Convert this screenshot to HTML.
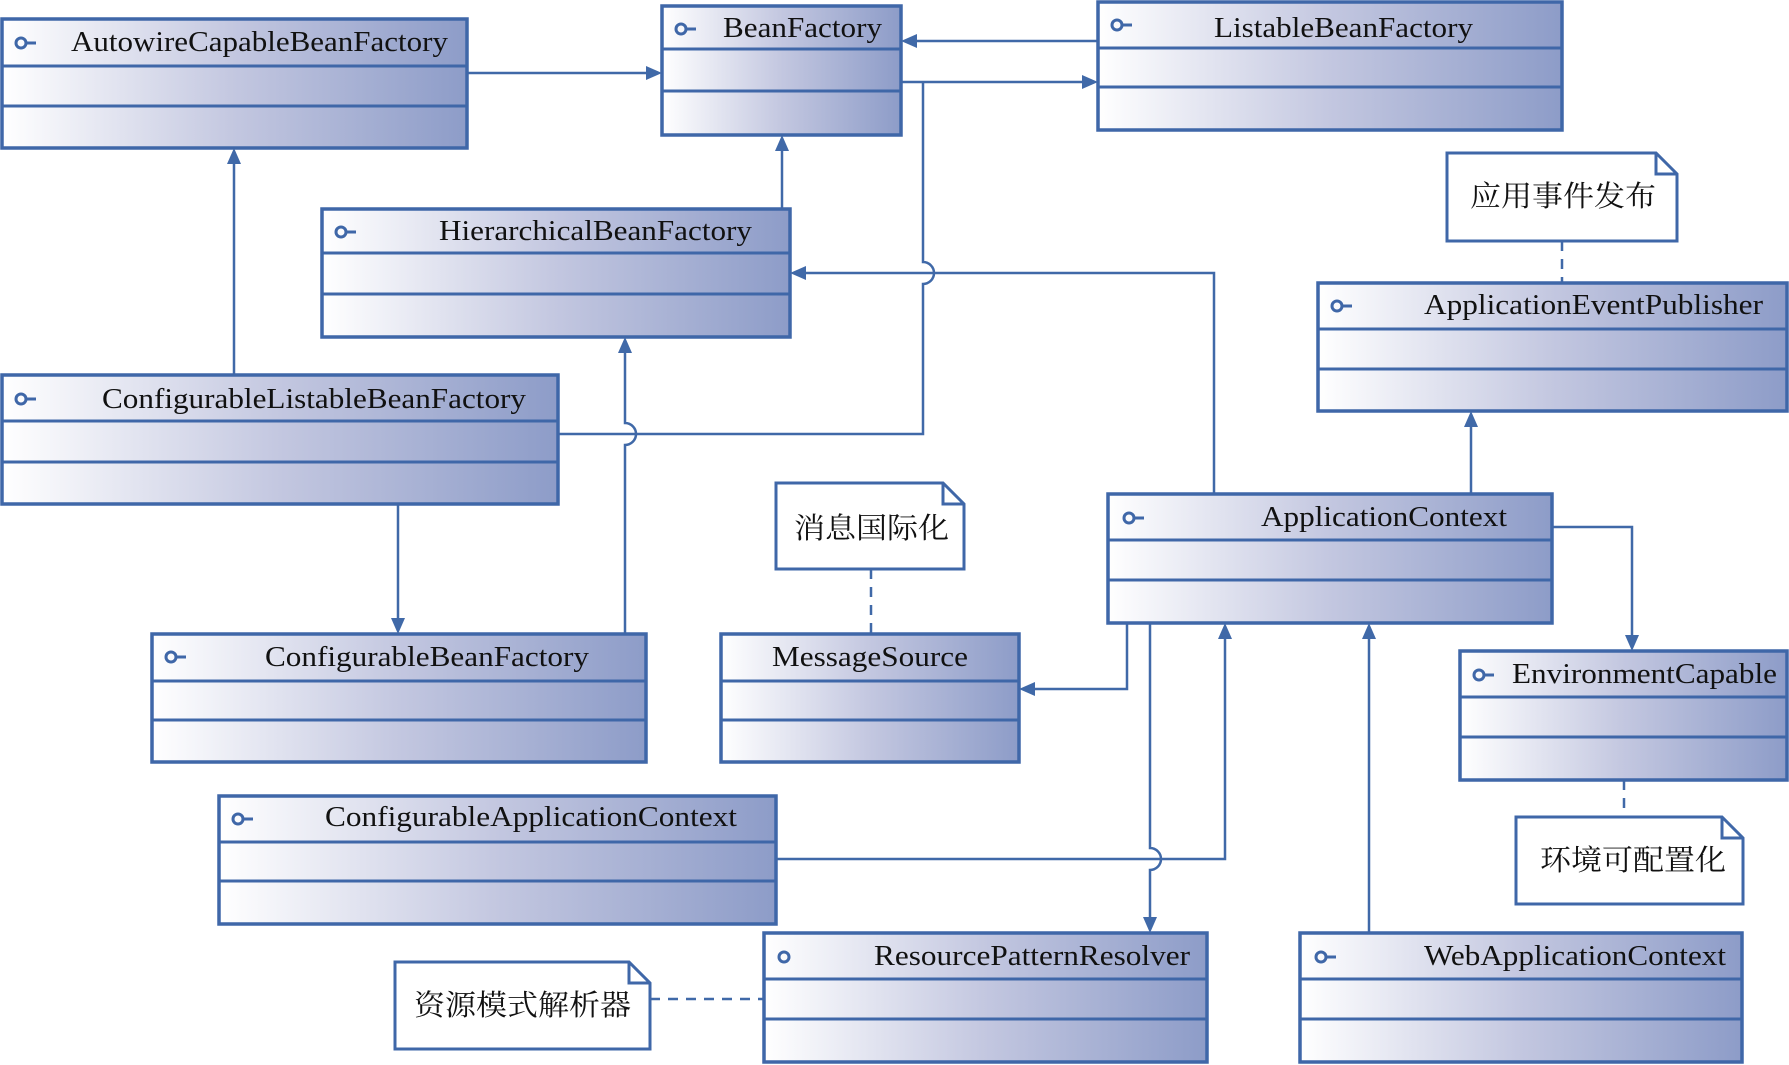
<!DOCTYPE html>
<html><head><meta charset="utf-8"><style>
html,body{margin:0;padding:0;background:#fff;width:1789px;height:1065px;overflow:hidden}
svg{display:block}
.t{font-family:"Liberation Serif",serif;font-size:28px;fill:#111}
.c{font-family:"Liberation Serif","Noto Serif CJK SC","Noto Sans CJK SC",serif;font-size:29px;fill:#111}
.b{fill:url(#g);stroke:#3f67a8;stroke-width:3.5}
.d{stroke:#3f67a8;stroke-width:3}
.l{fill:none;stroke:#4069a8;stroke-width:2.5}
.dl{fill:none;stroke:#4069a8;stroke-width:2.5;stroke-dasharray:10 8}
.n{fill:#fff;stroke:#3f67a8;stroke-width:3}
.a{fill:#4069a8}
.i{fill:none;stroke:#3f67a8;stroke-width:3}
</style></head><body>
<svg width="1789" height="1065" viewBox="0 0 1789 1065">
<defs><linearGradient id="g" x1="0" x2="1" y1="0" y2="0"><stop offset="0" stop-color="#ffffff"/><stop offset="0.5" stop-color="#c3c7e0"/><stop offset="1" stop-color="#8d9cc8"/></linearGradient></defs>

<!-- connectors -->
<path class="l" d="M467 73 H650"/><polygon class="a" points="662,73 646,66 646,80"/>
<path class="l" d="M1098 41 H913"/><polygon class="a" points="901,41 917,34 917,48"/>
<path class="l" d="M558 434 H923 V284 a11 11 0 0 0 0 -22 V82"/>
<path class="l" d="M901 82 H1086"/><polygon class="a" points="1098,82 1082,75 1082,89"/>
<path class="l" d="M782 209 V147"/><polygon class="a" points="782,135 775,151 789,151"/>
<path class="l" d="M1214 494 V273 H802"/><polygon class="a" points="790,273 806,266 806,280"/>
<path class="l" d="M234 375 V160"/><polygon class="a" points="234,148 227,164 241,164"/>
<path class="l" d="M398 504 V622"/><polygon class="a" points="398,634 391,618 405,618"/>
<path class="l" d="M625 634 V445 a11 11 0 0 0 0 -22 V349"/><polygon class="a" points="625,337 618,353 632,353"/>
<path class="l" d="M1127 623 V689 H1031"/><polygon class="a" points="1019,689 1035,682 1035,696"/>
<path class="l" d="M1150 623 V848 a11 11 0 0 1 0 22 V921"/><polygon class="a" points="1150,933 1143,917 1157,917"/>
<path class="l" d="M776 859 H1225 V635"/><polygon class="a" points="1225,623 1218,639 1232,639"/>
<path class="l" d="M1369 933 V635"/><polygon class="a" points="1369,623 1362,639 1376,639"/>
<path class="l" d="M1552 527 H1632 V639"/><polygon class="a" points="1632,651 1625,635 1639,635"/>
<path class="l" d="M1471 494 V423"/><polygon class="a" points="1471,411 1464,427 1478,427"/>
<path class="dl" d="M1562 241 V283"/>
<path class="dl" d="M871 569 V634"/>
<path class="dl" d="M1624 780 V817"/>
<path class="dl" d="M650 999 H764"/>

<!-- classes -->
<g>
<rect class="b" x="2" y="19" width="465" height="129"/><line class="d" x1="2" y1="66" x2="467" y2="66"/><line class="d" x1="2" y1="106" x2="467" y2="106"/>
<circle class="i" cx="21" cy="43" r="5"/><line class="i" x1="26" y1="43" x2="36" y2="43"/>
<text class="t" x="71" y="51" textLength="377" lengthAdjust="spacingAndGlyphs">AutowireCapableBeanFactory</text>
</g>
<g>
<rect class="b" x="662" y="6" width="239" height="129"/><line class="d" x1="662" y1="49" x2="901" y2="49"/><line class="d" x1="662" y1="91" x2="901" y2="91"/>
<circle class="i" cx="681" cy="29" r="5"/><line class="i" x1="686" y1="29" x2="696" y2="29"/>
<text class="t" x="723" y="37" textLength="159" lengthAdjust="spacingAndGlyphs">BeanFactory</text>
</g>
<g>
<rect class="b" x="1098" y="2" width="464" height="128"/><line class="d" x1="1098" y1="48" x2="1562" y2="48"/><line class="d" x1="1098" y1="87" x2="1562" y2="87"/>
<circle class="i" cx="1117" cy="25" r="5"/><line class="i" x1="1122" y1="25" x2="1132" y2="25"/>
<text class="t" x="1214" y="37" textLength="259" lengthAdjust="spacingAndGlyphs">ListableBeanFactory</text>
</g>
<g>
<rect class="b" x="322" y="209" width="468" height="128"/><line class="d" x1="322" y1="253" x2="790" y2="253"/><line class="d" x1="322" y1="294" x2="790" y2="294"/>
<circle class="i" cx="341" cy="232" r="5"/><line class="i" x1="346" y1="232" x2="356" y2="232"/>
<text class="t" x="439" y="240" textLength="313" lengthAdjust="spacingAndGlyphs">HierarchicalBeanFactory</text>
</g>
<g>
<rect class="b" x="2" y="375" width="556" height="129"/><line class="d" x1="2" y1="421" x2="558" y2="421"/><line class="d" x1="2" y1="462" x2="558" y2="462"/>
<circle class="i" cx="21" cy="399" r="5"/><line class="i" x1="26" y1="399" x2="36" y2="399"/>
<text class="t" x="102" y="408" textLength="424" lengthAdjust="spacingAndGlyphs">ConfigurableListableBeanFactory</text>
</g>
<g>
<rect class="b" x="152" y="634" width="494" height="128"/><line class="d" x1="152" y1="681" x2="646" y2="681"/><line class="d" x1="152" y1="720" x2="646" y2="720"/>
<circle class="i" cx="171" cy="657" r="5"/><line class="i" x1="176" y1="657" x2="186" y2="657"/>
<text class="t" x="265" y="666" textLength="324" lengthAdjust="spacingAndGlyphs">ConfigurableBeanFactory</text>
</g>
<g>
<rect class="b" x="721" y="634" width="298" height="128"/><line class="d" x1="721" y1="681" x2="1019" y2="681"/><line class="d" x1="721" y1="720" x2="1019" y2="720"/>
<text class="t" x="772" y="666" textLength="196" lengthAdjust="spacingAndGlyphs">MessageSource</text>
</g>
<g>
<rect class="b" x="1108" y="494" width="444" height="129"/><line class="d" x1="1108" y1="540" x2="1552" y2="540"/><line class="d" x1="1108" y1="580" x2="1552" y2="580"/>
<circle class="i" cx="1129" cy="518" r="5"/><line class="i" x1="1134" y1="518" x2="1144" y2="518"/>
<text class="t" x="1261" y="526" textLength="246" lengthAdjust="spacingAndGlyphs">ApplicationContext</text>
</g>
<g>
<rect class="b" x="1318" y="283" width="469" height="128"/><line class="d" x1="1318" y1="329" x2="1787" y2="329"/><line class="d" x1="1318" y1="369" x2="1787" y2="369"/>
<circle class="i" cx="1337" cy="306" r="5"/><line class="i" x1="1342" y1="306" x2="1352" y2="306"/>
<text class="t" x="1424" y="314" textLength="339" lengthAdjust="spacingAndGlyphs">ApplicationEventPublisher</text>
</g>
<g>
<rect class="b" x="1460" y="651" width="327" height="129"/><line class="d" x1="1460" y1="697" x2="1787" y2="697"/><line class="d" x1="1460" y1="737" x2="1787" y2="737"/>
<circle class="i" cx="1479" cy="675" r="5"/><line class="i" x1="1484" y1="675" x2="1494" y2="675"/>
<text class="t" x="1512" y="683" textLength="265" lengthAdjust="spacingAndGlyphs">EnvironmentCapable</text>
</g>
<g>
<rect class="b" x="219" y="796" width="557" height="128"/><line class="d" x1="219" y1="842" x2="776" y2="842"/><line class="d" x1="219" y1="881" x2="776" y2="881"/>
<circle class="i" cx="238" cy="819" r="5"/><line class="i" x1="243" y1="819" x2="253" y2="819"/>
<text class="t" x="325" y="826" textLength="412" lengthAdjust="spacingAndGlyphs">ConfigurableApplicationContext</text>
</g>
<g>
<rect class="b" x="764" y="933" width="443" height="129"/><line class="d" x1="764" y1="979" x2="1207" y2="979"/><line class="d" x1="764" y1="1019" x2="1207" y2="1019"/>
<circle class="i" cx="784" cy="957" r="5"/>
<text class="t" x="874" y="965" textLength="316" lengthAdjust="spacingAndGlyphs">ResourcePatternResolver</text>
</g>
<g>
<rect class="b" x="1300" y="933" width="442" height="129"/><line class="d" x1="1300" y1="979" x2="1742" y2="979"/><line class="d" x1="1300" y1="1019" x2="1742" y2="1019"/>
<circle class="i" cx="1321" cy="957" r="5"/><line class="i" x1="1326" y1="957" x2="1336" y2="957"/>
<text class="t" x="1424" y="965" textLength="302" lengthAdjust="spacingAndGlyphs">WebApplicationContext</text>
</g>

<!-- notes -->
<path class="n" d="M1447 153 H1656 L1677 174 V241 H1447 Z"/><path class="n" d="M1656 153 V174 H1677" style="fill:none"/>
<text class="c" x="1470" y="206" textLength="186" lengthAdjust="spacingAndGlyphs">应用事件发布</text>
<path class="n" d="M776 483 H943 L964 504 V569 H776 Z"/><path class="n" d="M943 483 V504 H964" style="fill:none"/>
<text class="c" x="794" y="538" textLength="155" lengthAdjust="spacingAndGlyphs">消息国际化</text>
<path class="n" d="M1516 817 H1722 L1743 838 V904 H1516 Z"/><path class="n" d="M1722 817 V838 H1743" style="fill:none"/>
<text class="c" x="1540" y="870" textLength="186" lengthAdjust="spacingAndGlyphs">环境可配置化</text>
<path class="n" d="M395 962 H629 L650 983 V1049 H395 Z"/><path class="n" d="M629 962 V983 H650" style="fill:none"/>
<text class="c" x="414" y="1015" textLength="217" lengthAdjust="spacingAndGlyphs">资源模式解析器</text>
</svg>
</body></html>
